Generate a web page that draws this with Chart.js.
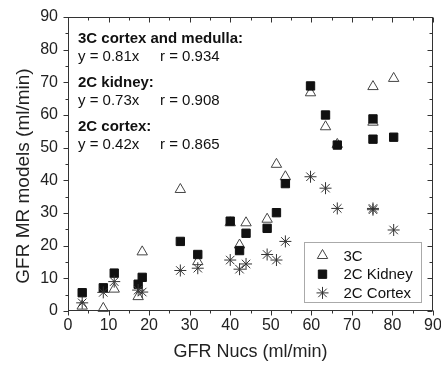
<!DOCTYPE html>
<html>
<head>
<meta charset="utf-8">
<script src="https://cdn.jsdelivr.net/npm/chart.js@4.4.0/dist/chart.umd.min.js"></script>
<style>
  html, body { margin: 0; padding: 0; background: #fff; }
</style>
</head>
<body>
<canvas id="gfr-chart" width="441" height="366"></canvas>
<script>
// GFR Nucs (x) against the MR model estimates (y), one entry per subject
var gfrNucs    = [3.5, 8.7, 11.4, 17.3, 18.3, 27.7, 32.0, 40.0, 42.3, 43.9, 49.1, 51.4, 53.6, 59.8, 63.5, 66.4, 75.2, 75.2, 80.3];
var mr3C       = [1.5, 0.8, 6.7, 4.4, 18.1, 37.2, 15.1, 27.0, 20.2, 27.0, 28.1, 44.9, 41.1, 66.8, 56.4, 51.0, 68.7, 57.8, 71.2];
var mr2CKidney = [5.6, 7.1, 11.6, 8.2, 10.3, 21.3, 17.3, 27.5, 18.5, 23.8, 25.3, 30.1, 39.0, 68.9, 60.0, 50.8, 58.8, 52.6, 53.2];
var mr2CCortex = [2.5, 5.7, 9.0, 6.4, 5.8, 12.4, 13.1, 15.6, 12.8, 14.4, 17.3, 15.6, 21.3, 41.1, 37.6, 31.4, 31.4, 31.0, 24.8];

var xTickValues = [0, 10, 20, 30, 40, 50, 60, 70, 80, 90];
var yTickValues = [0, 10, 20, 30, 40, 50, 60, 70, 80, 90];

var seriesNames = ["3C", "2C Kidney", "2C Cortex"];
var fitTitles = ["3C cortex and medulla:", "2C kidney:", "2C cortex:"];
var fitSlopes = ["y = 0.81x", "y = 0.73x", "y = 0.42x"];
var fitR      = ["r = 0.934", "r = 0.908", "r = 0.865"];

var FONT = "'Liberation Sans', Arial, sans-serif";

function toPoints(xs, ys) {
    return xs.map(function (x, i) { return { x: x, y: ys[i] }; });
}

var styles = [
    { pointStyle: 'triangle', radius: 6, backgroundColor: '#fff', borderColor: '#444', borderWidth: 1 },
    { pointStyle: 'rect', radius: 5.9, backgroundColor: '#111', borderColor: '#111', borderWidth: 1 },
    { pointStyle: 'star', radius: 6, backgroundColor: '#333', borderColor: '#333', borderWidth: 1 }
];

function useTicks(values) {
    return function (scale) {
        scale.ticks = values.map(function (v) { return { value: v }; });
    };
}

// frame with major/minor ticks: outward on bottom/left, inward on top/right
var frameTicks = {
    id: 'frameTicks',
    afterDraw: function (chart) {
        var ctx = chart.ctx, a = chart.chartArea;
        var sx = chart.scales.x, sy = chart.scales.y;
        var L = Math.round(a.left) + 0.5, R = Math.round(a.right) - 0.5;
        var T = Math.round(a.top) + 0.5, B = Math.round(a.bottom) - 0.5;
        ctx.save();
        ctx.strokeStyle = '#333';
        ctx.lineWidth = 1;
        ctx.strokeRect(L, T, R - L, B - T);
        ctx.beginPath();
        for (var v = sx.min; v <= sx.max; v += 5) {
            var px = Math.round(sx.getPixelForValue(v)) + 0.5;
            var len = v % 10 === 0 ? 5 : 3;
            ctx.moveTo(px, B); ctx.lineTo(px, B + len);
            ctx.moveTo(px, T); ctx.lineTo(px, T + len);
        }
        for (var w = sy.min; w <= sy.max; w += 5) {
            var py = Math.round(sy.getPixelForValue(w)) + 0.5;
            var ln = w % 10 === 0 ? 5 : 3;
            ctx.moveTo(L, py); ctx.lineTo(L - ln, py);
            ctx.moveTo(R, py); ctx.lineTo(R - ln, py);
        }
        ctx.stroke();
        ctx.restore();
    }
};

// fit results written in the upper left of the plot
var fitNotes = {
    id: 'fitNotes',
    afterDraw: function (chart) {
        var ctx = chart.ctx, a = chart.chartArea;
        ctx.save();
        ctx.fillStyle = '#111';
        ctx.textBaseline = 'middle';
        ctx.textAlign = 'left';
        for (var i = 0; i < fitTitles.length; i++) {
            var y0 = a.top + 22 + i * 44;
            ctx.font = 'bold 15px ' + FONT;
            ctx.fillText(fitTitles[i], a.left + 10, y0);
            ctx.font = '15px ' + FONT;
            ctx.fillText(fitSlopes[i], a.left + 10, y0 + 18);
            ctx.fillText(fitR[i], a.left + 92, y0 + 18);
        }
        // y axis title, sits a little below the axis centre
        ctx.translate(24, 176);
        ctx.rotate(-Math.PI / 2);
        ctx.textAlign = 'center';
        ctx.font = '19px ' + FONT;
        ctx.fillStyle = '#222';
        ctx.fillText('GFR MR models (ml/min)', 0, 0);
        ctx.restore();
    }
};

// boxed legend in the lower right corner of the plot
var boxLegend = {
    id: 'boxLegend',
    afterDraw: function (chart) {
        var ctx = chart.ctx, a = chart.chartArea;
        var bx = Math.round(a.right) - 128.5, by = Math.round(a.bottom) - 68.5;
        ctx.save();
        ctx.strokeStyle = '#aaa';
        ctx.lineWidth = 1;
        ctx.strokeRect(bx, by, 117, 60);
        ctx.font = '15px ' + FONT;
        ctx.textBaseline = 'middle';
        ctx.textAlign = 'left';
        chart.data.datasets.forEach(function (ds, i) {
            var cy = by + 13 + i * 18.7;
            var st = styles[i];
            ctx.fillStyle = st.backgroundColor;
            ctx.strokeStyle = st.borderColor;
            ctx.lineWidth = st.borderWidth;
            Chart.helpers.drawPoint(ctx, { pointStyle: st.pointStyle, radius: st.radius, rotation: 0, borderWidth: st.borderWidth }, bx + 18, cy);
            ctx.fillStyle = '#111';
            ctx.fillText(ds.label, bx + 39, cy + 1);
        });
        ctx.restore();
    }
};

var seriesValues = [mr3C, mr2CKidney, mr2CCortex];
var datasets = seriesValues.map(function (ys, i) {
    var st = styles[i];
    return {
        label: seriesNames[i],
        data: toPoints(gfrNucs, ys),
        pointStyle: st.pointStyle,
        pointRadius: st.radius,
        backgroundColor: st.backgroundColor,
        borderColor: st.borderColor,
        borderWidth: st.borderWidth,
        clip: false,
        order: 3 - i
    };
});

var ctx = document.getElementById('gfr-chart').getContext('2d');
var chart = new Chart(ctx, {
    type: 'scatter',
    data: { datasets: datasets },
    options: {
        responsive: false,
        animation: false,
        layout: { padding: { top: 17, right: 8, left: 0, bottom: 0 } },
        plugins: {
            legend: { display: false },
            tooltip: { enabled: false }
        },
        scales: {
            x: {
                type: 'linear',
                min: 0,
                max: 90,
                afterBuildTicks: useTicks(xTickValues),
                afterFit: function (scale) { scale.height = 55; scale.paddingLeft = 0; scale.paddingRight = 0; },
                grid: { display: false, drawTicks: false },
                border: { display: false },
                ticks: { color: '#222', padding: 5, maxRotation: 0, font: { family: FONT, size: 16 } },
                title: { display: true, text: 'GFR Nucs (ml/min)', color: '#222', font: { family: FONT, size: 18 }, padding: { top: 0, bottom: 3 } }
            },
            y: {
                type: 'linear',
                min: 0,
                max: 90,
                afterBuildTicks: useTicks(yTickValues),
                afterFit: function (scale) { scale.width = 68; scale.paddingTop = 0; scale.paddingBottom = 0; },
                grid: { display: false, drawTicks: false },
                border: { display: false },
                ticks: { color: '#222', padding: 10, font: { family: FONT, size: 16 } }
            }
        }
    },
    plugins: [frameTicks, fitNotes, boxLegend]
});
</script>
</body>
</html>
